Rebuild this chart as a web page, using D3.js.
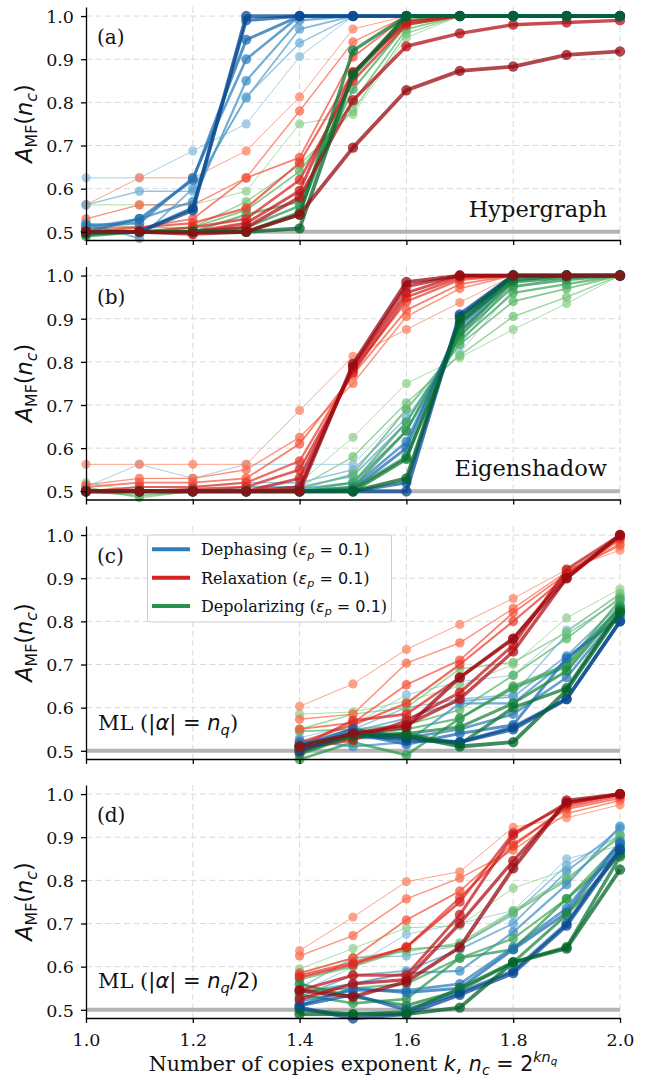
<!DOCTYPE html>
<html><head><meta charset="utf-8">
<script src="https://cdn.jsdelivr.net/npm/d3@7"></script>
<style>body{margin:0;background:#fff}</style>
</head><body><svg id="c" width="647" height="1080"></svg>
<script>
// ---------- data ----------
const kFull = [1.0, 1.1, 1.2, 1.3, 1.4, 1.5, 1.6, 1.7, 1.8, 1.9, 2.0];
const kML = [1.4, 1.5, 1.6, 1.7, 1.8, 1.9, 2.0];
const xTicks = [1.0, 1.2, 1.4, 1.6, 1.8, 2.0];
const yTicks = [0.5, 0.6, 0.7, 0.8, 0.9, 1.0];
const panelLetters = ["(a)", "(b)", "(c)", "(d)"];
const seriesNames = ["Dephasing", "Relaxation", "Depolarizing"];
const baseline = 0.5;

// (a) Hypergraph — curves from light to dark
const hyperBlue = [
  [0.625, 0.625, 0.6875, 0.75, 0.906, 1, 1, 1, 1, 1, 1],
  [0.5625, 0.594, 0.594, 0.8125, 0.9375, 1, 1, 1, 1, 1, 1],
  [0.52, 0.485, 0.60, 0.81, 0.97, 1, 1, 1, 1, 1, 1],
  [0.51, 0.53, 0.57, 0.85, 0.99, 1, 1, 1, 1, 1, 1],
  [0.515, 0.52, 0.625, 0.90, 1, 1, 1, 1, 1, 1, 1],
  [0.50, 0.53, 0.62, 0.945, 1, 1, 1, 1, 1, 1, 1],
  [0.50, 0.50, 0.555, 0.99, 1, 1, 1, 1, 1, 1, 1],
  [0.50, 0.50, 0.55, 1.0, 1, 1, 1, 1, 1, 1, 1]
];
const hyperRed = [
  [0.5625, 0.625, 0.625, 0.6875, 0.8125, 0.97, 1, 1, 1, 1, 1],
  [0.53, 0.5625, 0.5625, 0.625, 0.78, 0.94, 1, 1, 1, 1, 1],
  [0.51, 0.51, 0.53, 0.625, 0.672, 0.905, 1, 1, 1, 1, 1],
  [0.50, 0.51, 0.52, 0.555, 0.66, 0.87, 0.99, 1, 1, 1, 1],
  [0.50, 0.50, 0.51, 0.53, 0.62, 0.85, 0.98, 1, 1, 1, 1],
  [0.50, 0.50, 0.50, 0.52, 0.595, 0.87, 0.985, 1, 1, 1, 1],
  [0.50, 0.50, 0.50, 0.51, 0.58, 0.805, 0.93, 0.96, 0.98, 0.985, 0.99],
  [0.50, 0.50, 0.495, 0.50, 0.54, 0.695, 0.828, 0.873, 0.883, 0.91, 0.918]
];
const hyperGreen = [
  [0.5625, 0.5625, 0.5625, 0.594, 0.75, 0.772, 0.95, 1, 1, 1, 1],
  [0.52, 0.51, 0.51, 0.57, 0.655, 0.78, 0.96, 1, 1, 1, 1],
  [0.51, 0.50, 0.51, 0.55, 0.64, 0.80, 0.97, 1, 1, 1, 1],
  [0.50, 0.50, 0.50, 0.54, 0.57, 0.83, 0.98, 1, 1, 1, 1],
  [0.495, 0.50, 0.50, 0.51, 0.56, 0.86, 0.99, 1, 1, 1, 1],
  [0.49, 0.50, 0.50, 0.50, 0.545, 0.865, 1, 1, 1, 1, 1],
  [0.495, 0.50, 0.50, 0.50, 0.54, 0.92, 1, 1, 1, 1, 1],
  [0.50, 0.50, 0.50, 0.50, 0.508, 0.865, 1, 1, 1, 1, 1]
];

// (b) Eigenshadow
const eigenBlue = [
  [0.51, 0.5625, 0.53, 0.5625, 0.5625, 0.5625, 0.69, 0.82, 0.97, 1, 1],
  [0.50, 0.51, 0.51, 0.52, 0.52, 0.55, 0.67, 0.84, 0.99, 1, 1],
  [0.50, 0.50, 0.50, 0.51, 0.51, 0.535, 0.66, 0.86, 0.995, 1, 1],
  [0.50, 0.50, 0.50, 0.50, 0.505, 0.52, 0.64, 0.87, 1, 1, 1],
  [0.50, 0.50, 0.50, 0.50, 0.50, 0.51, 0.615, 0.88, 1, 1, 1],
  [0.50, 0.50, 0.50, 0.50, 0.50, 0.505, 0.60, 0.89, 1, 1, 1],
  [0.50, 0.50, 0.50, 0.50, 0.50, 0.50, 0.52, 0.905, 1, 1, 1],
  [0.50, 0.50, 0.50, 0.50, 0.50, 0.50, 0.50, 0.91, 1, 1, 1]
];
const eigenRed = [
  [0.5625, 0.5625, 0.5625, 0.5625, 0.6875, 0.8125, 0.875, 0.9375, 1, 1, 1],
  [0.515, 0.53, 0.53, 0.55, 0.625, 0.75, 0.905, 0.97, 1, 1, 1],
  [0.51, 0.52, 0.52, 0.53, 0.61, 0.77, 0.92, 0.98, 1, 1, 1],
  [0.50, 0.51, 0.51, 0.52, 0.57, 0.78, 0.94, 0.99, 1, 1, 1],
  [0.50, 0.50, 0.505, 0.51, 0.55, 0.775, 0.95, 0.995, 1, 1, 1],
  [0.50, 0.50, 0.50, 0.50, 0.53, 0.785, 0.96, 1, 1, 1, 1],
  [0.50, 0.50, 0.50, 0.50, 0.51, 0.79, 0.975, 1, 1, 1, 1],
  [0.50, 0.50, 0.50, 0.50, 0.50, 0.795, 0.985, 1, 1, 1, 1]
];
const eigenGreen = [
  [0.52, 0.50, 0.50, 0.51, 0.52, 0.625, 0.75, 0.81, 0.875, 0.935, 1],
  [0.51, 0.485, 0.50, 0.50, 0.51, 0.58, 0.705, 0.815, 0.905, 0.95, 1],
  [0.50, 0.49, 0.50, 0.50, 0.505, 0.54, 0.69, 0.84, 0.94, 0.97, 1],
  [0.50, 0.50, 0.50, 0.50, 0.50, 0.52, 0.66, 0.85, 0.96, 0.98, 1],
  [0.50, 0.50, 0.50, 0.50, 0.50, 0.51, 0.64, 0.86, 0.975, 0.99, 1],
  [0.50, 0.50, 0.50, 0.50, 0.50, 0.505, 0.58, 0.87, 0.985, 0.995, 1],
  [0.50, 0.50, 0.50, 0.50, 0.50, 0.50, 0.575, 0.89, 0.99, 1, 1],
  [0.50, 0.50, 0.50, 0.50, 0.50, 0.50, 0.53, 0.90, 1, 1, 1]
];

// (c) ML |alpha| = n_q
const mlBlue = [
  [0.53, 0.56, 0.63, 0.66, 0.675, 0.78, 0.86],
  [0.52, 0.55, 0.60, 0.62, 0.63, 0.77, 0.85],
  [0.51, 0.545, 0.575, 0.615, 0.625, 0.72, 0.84],
  [0.525, 0.51, 0.52, 0.61, 0.61, 0.71, 0.83],
  [0.52, 0.53, 0.53, 0.55, 0.585, 0.67, 0.82],
  [0.515, 0.54, 0.515, 0.54, 0.56, 0.715, 0.81],
  [0.51, 0.55, 0.53, 0.52, 0.555, 0.62, 0.80],
  [0.50, 0.54, 0.525, 0.52, 0.55, 0.62, 0.80]
];
const mlRed = [
  [0.603, 0.655, 0.735, 0.793, 0.853, 0.92, 0.965],
  [0.573, 0.585, 0.703, 0.75, 0.83, 0.915, 0.975],
  [0.55, 0.565, 0.653, 0.71, 0.82, 0.91, 0.98],
  [0.52, 0.56, 0.61, 0.70, 0.80, 0.905, 0.99],
  [0.51, 0.57, 0.585, 0.67, 0.76, 0.91, 0.995],
  [0.505, 0.525, 0.57, 0.635, 0.745, 0.92, 1.0],
  [0.50, 0.54, 0.56, 0.62, 0.73, 0.90, 1.0],
  [0.51, 0.54, 0.555, 0.67, 0.76, 0.90, 1.0]
];
const mlGreen = [
  [0.585, 0.59, 0.615, 0.65, 0.70, 0.808, 0.875],
  [0.55, 0.585, 0.60, 0.69, 0.705, 0.775, 0.865],
  [0.545, 0.55, 0.56, 0.595, 0.675, 0.76, 0.855],
  [0.49, 0.535, 0.55, 0.575, 0.65, 0.70, 0.85],
  [0.48, 0.52, 0.49, 0.575, 0.645, 0.695, 0.835],
  [0.505, 0.53, 0.54, 0.555, 0.61, 0.685, 0.83],
  [0.495, 0.535, 0.54, 0.515, 0.60, 0.645, 0.825],
  [0.51, 0.535, 0.535, 0.51, 0.52, 0.64, 0.82]
];

// (d) ML |alpha| = n_q/2
const mlHalfBlue = [
  [0.54, 0.60, 0.675, 0.70, 0.73, 0.85, 0.88],
  [0.55, 0.62, 0.625, 0.65, 0.72, 0.835, 0.905],
  [0.53, 0.58, 0.59, 0.64, 0.70, 0.82, 0.92],
  [0.54, 0.56, 0.585, 0.59, 0.68, 0.79, 0.925],
  [0.52, 0.545, 0.545, 0.56, 0.645, 0.735, 0.89],
  [0.51, 0.55, 0.54, 0.55, 0.64, 0.725, 0.885],
  [0.51, 0.535, 0.50, 0.54, 0.59, 0.70, 0.875],
  [0.505, 0.48, 0.49, 0.535, 0.585, 0.695, 0.87]
];
const mlHalfRed = [
  [0.637, 0.715, 0.797, 0.82, 0.923, 0.945, 0.975],
  [0.625, 0.672, 0.757, 0.805, 0.87, 0.955, 0.985],
  [0.585, 0.62, 0.708, 0.775, 0.885, 0.965, 0.99],
  [0.58, 0.61, 0.645, 0.76, 0.88, 0.97, 0.995],
  [0.575, 0.605, 0.645, 0.75, 0.91, 0.975, 1.0],
  [0.545, 0.58, 0.58, 0.72, 0.905, 0.98, 1.0],
  [0.525, 0.56, 0.57, 0.70, 0.845, 0.98, 1.0],
  [0.545, 0.53, 0.565, 0.645, 0.828, 0.985, 1.0]
];
const mlHalfGreen = [
  [0.595, 0.642, 0.69, 0.695, 0.782, 0.825, 0.895],
  [0.585, 0.62, 0.635, 0.655, 0.73, 0.805, 0.90],
  [0.57, 0.60, 0.64, 0.65, 0.725, 0.80, 0.905],
  [0.545, 0.55, 0.56, 0.62, 0.665, 0.757, 0.885],
  [0.535, 0.515, 0.525, 0.62, 0.64, 0.757, 0.865],
  [0.56, 0.53, 0.51, 0.545, 0.61, 0.72, 0.86],
  [0.50, 0.49, 0.495, 0.55, 0.61, 0.645, 0.855],
  [0.49, 0.49, 0.49, 0.505, 0.61, 0.642, 0.825]
];

// ---------- drawing ----------
const SERIF = "'DejaVu Serif', serif";
const SANS = "'DejaVu Sans', sans-serif";
const svg = d3.select("#c");
const left = 86, right = 620;
const panelTops = [7, 266.5, 526, 785];
const panelH = 233;
const x = d3.scaleLinear().domain([1.0, 2.0]).range([left, right]);
const cmaps = [d3.interpolateBlues, d3.interpolateReds, d3.interpolateGreens];
const legendColors = [d3.interpolateBlues(0.7), d3.interpolateReds(0.72), d3.interpolateGreens(0.72)];

function rich(g, px, py, size, segs, anchor) {
  const t = g.append("text").attr("x", px).attr("y", py)
    .attr("font-size", size).attr("text-anchor", anchor || "start").attr("fill", "#111");
  let cur = 0;
  segs.forEach(s => {
    const sp = t.append("tspan").text(s.t)
      .attr("font-family", s.m ? SANS : SERIF)
      .attr("font-size", size * (s.sc || 1));
    if (s.i) sp.attr("font-style", "italic");
    const off = (s.off || 0) * size;
    if (off !== cur) { sp.attr("dy", off - cur); cur = off; }
  });
  return t;
}

const panels = [
  {ks: kFull, series: [hyperBlue, hyperRed, hyperGreen]},
  {ks: kFull, series: [eigenBlue, eigenRed, eigenGreen]},
  {ks: kML, series: [mlBlue, mlRed, mlGreen]},
  {ks: kML, series: [mlHalfBlue, mlHalfRed, mlHalfGreen]}
];

panels.forEach((p, pi) => {
  const top = panelTops[pi], bot = top + panelH;
  const y = d3.scaleLinear().domain([0.481, 1.021]).range([bot, top]);
  const g = svg.append("g");

  // grid
  g.selectAll(".gy").data(yTicks).join("line")
    .attr("x1", left).attr("x2", right)
    .attr("y1", d => y(d)).attr("y2", d => y(d))
    .attr("stroke", "#d9d9d9").attr("stroke-width", 1).attr("stroke-dasharray", "6,3.5");
  g.selectAll(".gx").data(xTicks.slice(1)).join("line")
    .attr("x1", d => x(d)).attr("x2", d => x(d))
    .attr("y1", top).attr("y2", bot)
    .attr("stroke", "#d9d9d9").attr("stroke-width", 1).attr("stroke-dasharray", "6,3.5");

  // baseline at 0.5
  g.append("line").attr("x1", left).attr("x2", right)
    .attr("y1", y(baseline)).attr("y2", y(baseline))
    .attr("stroke", "#b4b4b4").attr("stroke-width", 4);

  // curves: levels light -> dark, series interleaved
  const n = p.series[0].length;
  const line = d3.line().x((d, i) => x(p.ks[i])).y(d => y(d));
  for (let i = 0; i < n; i++) {
    const f = i / (n - 1);
    const t = 0.42 + 0.48 * f;
    const lw = 1 + 2.8 * f;
    const r = 4.6 + 0.6 * f;
    [0, 2, 1].forEach(si => {
      const vals = p.series[si][i];
      const col = cmaps[si](t);
      g.append("path").datum(vals).attr("d", line)
        .attr("fill", "none").attr("stroke", col).attr("stroke-width", lw)
        .attr("stroke-opacity", 0.75).attr("stroke-linejoin", "round");
      g.selectAll(null).data(vals).join("circle")
        .attr("cx", (d, j) => x(p.ks[j])).attr("cy", d => y(d)).attr("r", r)
        .attr("fill", col).attr("fill-opacity", 0.75);
    });
  }

  // axes
  const ya = g.append("g").attr("transform", `translate(${left},0)`)
    .call(d3.axisLeft(y).tickValues(yTicks).tickFormat(d3.format(".1f")).tickSize(5).tickPadding(7).tickSizeOuter(0));
  const xa = g.append("g").attr("transform", `translate(0,${bot})`)
    .call(d3.axisBottom(x).tickValues(xTicks).tickFormat(pi === 3 ? d3.format(".1f") : () => "")
      .tickSize(5).tickPadding(9).tickSizeOuter(0));
  [ya, xa].forEach(a => {
    a.selectAll("path.domain").attr("stroke", "#000").attr("stroke-width", 1.3);
    a.selectAll(".tick line").attr("stroke", "#000").attr("stroke-width", 1.3);
    a.selectAll(".tick text").attr("font-family", SERIF).attr("font-size", 17.5).attr("fill", "#111");
  });
  ya.selectAll(".tick text").attr("dy", "0.36em");
  xa.selectAll(".tick text").attr("dy", "0.78em");

  // y label  A_MF(n_c)
  const yl = svg.append("g").attr("transform", `translate(32,${(top + bot) / 2}) rotate(-90)`);
  rich(yl, 0, 0, 22.5, [
    {t: "A", m: 1, i: 1},
    {t: "MF", m: 1, sc: 0.7, off: 0.2},
    {t: "(", m: 1},
    {t: "n", m: 1, i: 1},
    {t: "c", m: 1, i: 1, sc: 0.7, off: 0.2},
    {t: ")", m: 1}
  ], "middle");

  // panel letter
  svg.append("text").attr("x", 97).attr("y", top + 37).attr("font-family", SERIF)
    .attr("font-size", 20).attr("fill", "#111").text(panelLetters[pi]);
});

// method labels
svg.append("text").attr("x", 607).attr("y", 216.5).attr("text-anchor", "end")
  .attr("font-family", SERIF).attr("font-size", 22.5).attr("fill", "#111").text("Hypergraph");
svg.append("text").attr("x", 607).attr("y", 475.5).attr("text-anchor", "end")
  .attr("font-family", SERIF).attr("font-size", 22.5).attr("fill", "#111").text("Eigenshadow");
rich(svg, 98, 730, 21, [
  {t: "ML ("}, {t: "|", m: 1}, {t: "α", m: 1, i: 1}, {t: "| = ", m: 1},
  {t: "n", m: 1, i: 1}, {t: "q", m: 1, i: 1, sc: 0.7, off: 0.22}, {t: ")"}
]);
rich(svg, 98, 988, 21, [
  {t: "ML ("}, {t: "|", m: 1}, {t: "α", m: 1, i: 1}, {t: "| = ", m: 1},
  {t: "n", m: 1, i: 1}, {t: "q", m: 1, i: 1, sc: 0.7, off: 0.22}, {t: "/2", m: 1}, {t: ")"}
]);

// legend
const lg = svg.append("g");
lg.append("rect").attr("x", 147.5).attr("y", 535).attr("width", 244).attr("height", 87)
  .attr("rx", 3).attr("fill", "#fff").attr("fill-opacity", 0.85)
  .attr("stroke", "#cccccc").attr("stroke-width", 1);
const rowsY = [549.3, 577.7, 606];
seriesNames.forEach((nm, i) => {
  lg.append("line").attr("x1", 152).attr("x2", 190).attr("y1", rowsY[i]).attr("y2", rowsY[i])
    .attr("stroke", legendColors[i]).attr("stroke-width", 4);
  rich(lg, 201, rowsY[i] + 5.8, 16, [
    {t: nm + " ("}, {t: "ε", m: 1, i: 1}, {t: "p", m: 1, i: 1, sc: 0.7, off: 0.22},
    {t: " = 0.1", m: 1}, {t: ")"}
  ]);
});

// x label
rich(svg, (left + right) / 2, 1071, 20.6, [
  {t: "Number of copies exponent "}, {t: "k", m: 1, i: 1}, {t: ", "},
  {t: "n", m: 1, i: 1}, {t: "c", m: 1, i: 1, sc: 0.7, off: 0.2}, {t: " = 2", m: 1},
  {t: "kn", m: 1, i: 1, sc: 0.7, off: -0.42}, {t: "q", m: 1, i: 1, sc: 0.5, off: -0.3}
], "middle");
</script>
</body></html>
